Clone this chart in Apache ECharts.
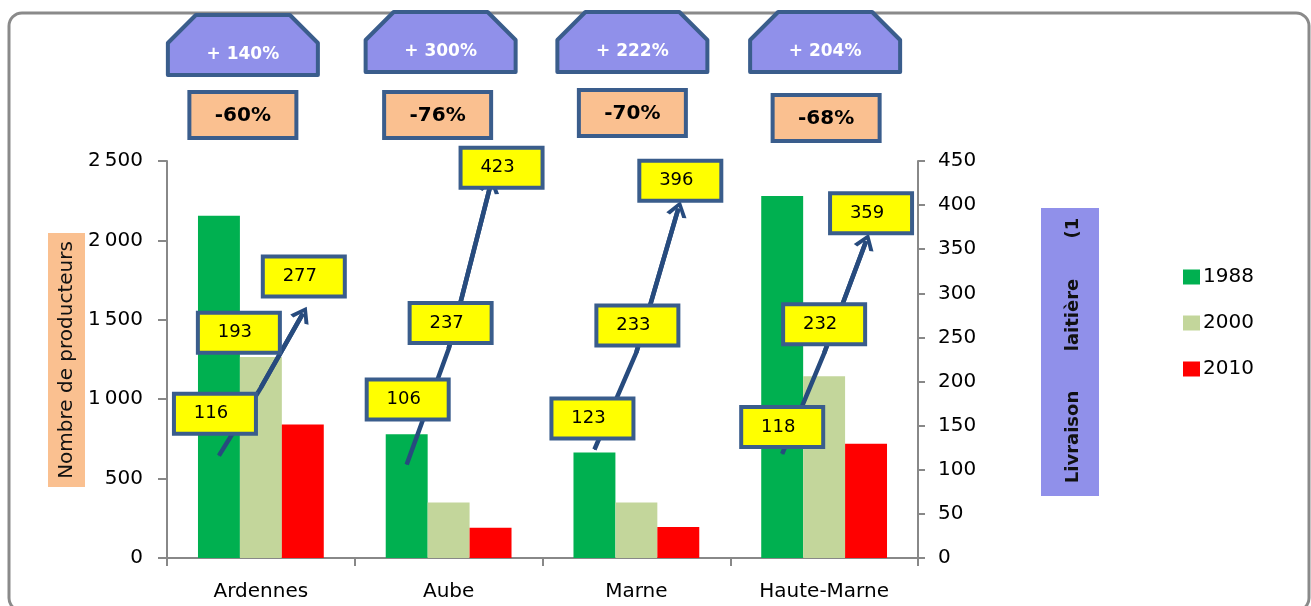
<!DOCTYPE html>
<html>
<head>
<meta charset="utf-8">
<script src="https://cdn.jsdelivr.net/npm/echarts@6/dist/echarts.min.js"></script>
<style>
  html, body { margin: 0; padding: 0; background: #ffffff; }
  #chart { width: 1311px; height: 606px; }
</style>
</head>
<body>
<div id="chart"></div>
<script>
// Départements
const categories = ['Ardennes', 'Aube', 'Marne', 'Haute-Marne'];
const years = ['1988', '2000', '2010'];

// Nombre de producteurs (axe de gauche)
const producers1988 = [2155, 780, 665, 2280];
const producers2000 = [1265, 350, 350, 1145];
const producers2010 = [840, 190, 195, 720];

// Livraison laitière (axe de droite)
const delivery1988 = [116, 106, 123, 118];
const delivery2000 = [193, 237, 233, 232];
const delivery2010 = [277, 423, 396, 359];

// Évolutions affichées au-dessus de chaque département
const deliveryChange = ['+ 140%', '+ 300%', '+ 222%', '+ 204%'];
const producerChange = ['-60%', '-76%', '-70%', '-68%'];

// Graduations des deux axes
const leftTicks = [0, 500, 1000, 1500, 2000, 2500];
const rightTicks = [0, 50, 100, 150, 200, 250, 300, 350, 400, 450];

// ---- mise en page ----
const FONT = 'DejaVu Sans';
const BAR_COLORS = ['#00b050', '#c3d69b', '#ff0000'];
const EDGE = '#3a5d8c';
const ARROW = '#274b7e';
const GAP = 0.33;                    // part vide de chaque catégorie
const BAR_FRAC = (1 - GAP) / 3;      // largeur d'une barre en fraction de catégorie

// décalage des étiquettes jaunes par rapport à leur point [dx, dy]
const tagShift = [
  [[-4, -42], [-22, -55], [1, -37]],
  [[1, -65], [2, -26], [11, -17]],
  [[-2, -31], [1, -27], [2, -28]],
  [[0, -27], [0, -29], [5, -28]]
];
// décalage horizontal / haut des pastilles du haut
const badgeShift = [-18, -8, -4, 1];
const badgeTop = [15, 12, 12, 12];
const boxShift = [-18, -11, -4, 2];
const boxTop = [90, 90, 88, 93];

const chart = echarts.init(document.getElementById('chart'), null, { renderer: 'canvas' });

const producerSeries = [producers1988, producers2000, producers2010].map((vals, k) => ({
  name: years[k],
  type: 'bar',
  xAxisIndex: 0,
  yAxisIndex: 0,
  data: vals,
  barGap: '0%',
  barCategoryGap: (GAP * 100) + '%',
  itemStyle: { color: BAR_COLORS[k] },
  emphasis: { disabled: true },
  z: 2
}));

const chevron = 'path://M0,13 L9,0 L18,13 L14.5,14 L9,5.5 L3.5,14 Z';

const deliverySeries = categories.map((cat, i) => {
  const xs = [i + 0.5 - BAR_FRAC, i + 0.5, i + 0.5 + BAR_FRAC];
  const ys = [delivery1988[i], delivery2000[i], delivery2010[i]];
  const pts = xs.map((x, j) => ({
    value: [x, ys[j]],
    label: { offset: tagShift[i][j] }
  }));
  return {
    name: 'livraison-' + cat,
    type: 'line',
    xAxisIndex: 1,
    yAxisIndex: 1,
    data: pts,
    symbol: 'circle',
    symbolSize: 1,
    showSymbol: true,
    itemStyle: { color: ARROW },
    lineStyle: { color: ARROW, width: 4.5 },
    emphasis: { disabled: true },
    silent: true,
    z: 5,
    label: {
      show: true,
      position: 'inside',
      formatter: p => String(p.value[1]),
      fontFamily: FONT,
      fontSize: 18,
      color: '#000',
      backgroundColor: '#ffff00',
      borderColor: EDGE,
      borderWidth: 4,
      width: 70,
      height: 36,
      lineHeight: 36,
      padding: [0, 8, 0, 0],
      align: 'center',
      verticalAlign: 'middle'
    },
    markLine: {
      silent: true,
      symbol: ['none', chevron],
      symbolSize: [21, 16],
      label: { show: false },
      lineStyle: { color: ARROW, width: 4.5, type: 'solid' },
      emphasis: { disabled: true },
      data: [[{ coord: [xs[1], ys[1]] }, { coord: [xs[2], ys[2]] }]]
    }
  };
});

const axisGray = '#888888';

const option = {
  backgroundColor: '#ffffff',
  animation: false,
  textStyle: { fontFamily: FONT },
  grid: { left: 167, right: 393, top: 161, bottom: 48, containLabel: false },
  legend: {
    data: years,
    orient: 'vertical',
    left: 1183,
    top: 267,
    padding: 0,
    itemWidth: 17,
    itemHeight: 15,
    itemGap: 26,
    icon: 'rect',
    selectedMode: false,
    textStyle: { fontFamily: FONT, fontSize: 20, color: '#000', padding: [0, 0, 0, -2] }
  },
  xAxis: [
    {
      type: 'category',
      data: categories,
      boundaryGap: true,
      axisLine: { lineStyle: { color: axisGray, width: 2 } },
      axisTick: { show: true, interval: 0, length: 8, lineStyle: { color: axisGray, width: 2 } },
      axisLabel: { fontFamily: FONT, fontSize: 20, color: '#000', margin: 24, interval: 0 }
    },
    {
      type: 'value',
      min: 0,
      max: categories.length,
      show: false
    }
  ],
  yAxis: [
    {
      type: 'value',
      position: 'left',
      min: leftTicks[0],
      max: leftTicks[leftTicks.length - 1],
      interval: leftTicks[1] - leftTicks[0],
      splitLine: { show: false },
      axisLine: { show: true, lineStyle: { color: axisGray, width: 2 } },
      axisTick: { show: true, length: 9, lineStyle: { color: axisGray, width: 2 } },
      axisLabel: {
        fontFamily: FONT, fontSize: 20, color: '#000', margin: 24,
        formatter: v => v >= 1000 ? String(v).replace(/(\d)(\d{3})$/, '$1\u2009$2') : String(v)
      }
    },
    {
      type: 'value',
      position: 'right',
      min: rightTicks[0],
      max: rightTicks[rightTicks.length - 1],
      interval: rightTicks[1] - rightTicks[0],
      splitLine: { show: false },
      axisLine: { show: true, lineStyle: { color: axisGray, width: 2 } },
      axisTick: { show: true, length: 7, lineStyle: { color: axisGray, width: 2 } },
      axisLabel: { fontFamily: FONT, fontSize: 20, color: '#000', margin: 20 }
    }
  ],
  series: producerSeries.concat(deliverySeries)
};

chart.setOption(option);

// Cadre, titres d'axes et pastilles d'évolution
const graphics = [];

graphics.push({
  type: 'rect',
  shape: { x: 9, y: 13, width: 1300, height: 598, r: 13 },
  style: { fill: 'none', stroke: '#8a8a8a', lineWidth: 3 },
  silent: true, z: 0
});

// titre de l'axe gauche
graphics.push({
  type: 'rect',
  shape: { x: 48, y: 233, width: 37, height: 254 },
  style: { fill: '#fac090' },
  silent: true, z: 1
});
graphics.push({
  type: 'text',
  x: 67, y: 360, rotation: Math.PI / 2,
  style: { text: 'Nombre de producteurs', fontFamily: FONT, fontSize: 20, fill: '#111',
           align: 'center', verticalAlign: 'middle' },
  silent: true, z: 2
});

// titre de l'axe droit
graphics.push({
  type: 'rect',
  shape: { x: 1041, y: 208, width: 58, height: 288 },
  style: { fill: '#9090ea' },
  silent: true, z: 1
});
[['Livraison', 437], ['laitière', 315], ['(1', 228]].forEach(([t, y]) => {
  graphics.push({
    type: 'text',
    x: 1073, y: y, rotation: Math.PI / 2,
    style: { text: t, fontFamily: FONT, fontSize: 18, fontWeight: 'bold', fill: '#111',
             align: 'center', verticalAlign: 'middle' },
    silent: true, z: 2
  });
});

categories.forEach((cat, i) => {
  const cx = chart.convertToPixel({ xAxisIndex: 0 }, cat);

  // pastille violette (rectangle à coins coupés)
  const bx = cx + badgeShift[i];
  const by = badgeTop[i];
  const hw = 75, h = 60, cut = 28;
  graphics.push({
    type: 'polygon',
    shape: { points: [
      [bx - hw + cut, by], [bx + hw - cut, by], [bx + hw, by + cut],
      [bx + hw, by + h], [bx - hw, by + h], [bx - hw, by + cut]
    ] },
    style: { fill: '#9090ea', stroke: EDGE, lineWidth: 4, lineJoin: 'round' },
    silent: true, z: 3
  });
  graphics.push({
    type: 'text',
    x: bx, y: by + 40,
    style: { text: deliveryChange[i], fontFamily: FONT, fontSize: 17, fontWeight: 'bold',
             fill: '#ffffff', align: 'center', verticalAlign: 'middle' },
    silent: true, z: 4
  });

  // encadré orange
  const ox = cx + boxShift[i];
  const oy = boxTop[i];
  graphics.push({
    type: 'rect',
    shape: { x: ox - 53.5, y: oy + 2, width: 107, height: 46 },
    style: { fill: '#fac090', stroke: EDGE, lineWidth: 4 },
    silent: true, z: 3
  });
  graphics.push({
    type: 'text',
    x: ox, y: oy + 26,
    style: { text: producerChange[i], fontFamily: FONT, fontSize: 20, fontWeight: 'bold',
             fill: '#000', align: 'center', verticalAlign: 'middle' },
    silent: true, z: 4
  });
});

chart.setOption({ graphic: graphics });
</script>
</body>
</html>
